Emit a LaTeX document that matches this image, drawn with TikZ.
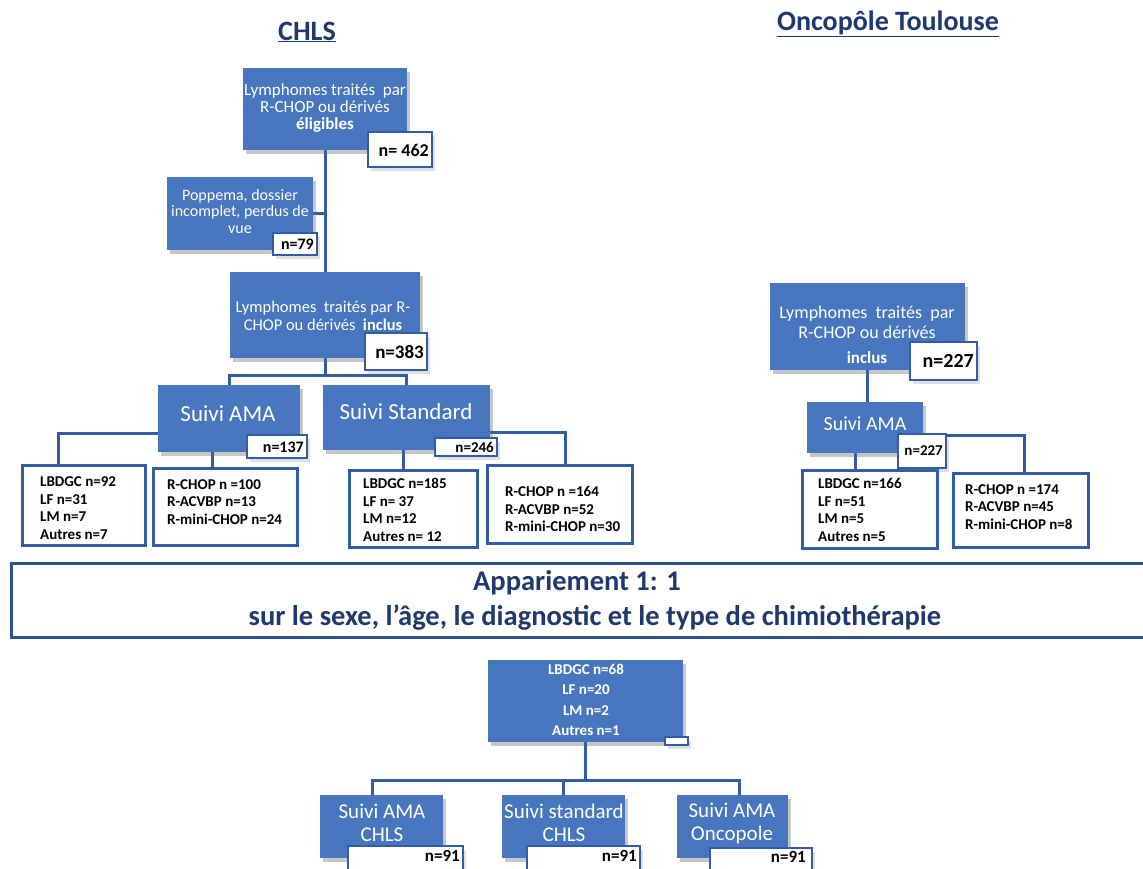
\documentclass[tikz,border=0pt]{standalone}
\usepackage{fontspec}
\setmainfont{Carlito}
\usetikzlibrary{shadows}
\definecolor{boxblue}{RGB}{72,118,190}
\definecolor{lineblue}{RGB}{50,92,166}
\definecolor{navy}{RGB}{31,56,110}
\definecolor{framblue}{RGB}{47,80,145}
\newcommand\bx[6]{\node[#6, minimum width={(#4-#2)*1pt}, minimum height={(#5-#3)*1pt}] (#1) at ({(#2+#4)/2},{(#3+#5)/2}) {};}
\tikzset{
  shad/.style={drop shadow={shadow xshift=3pt,shadow yshift=-4pt,opacity=.2,fill=black!60}},
  bbox/.style={fill=boxblue, draw=none, inner sep=0, shad},
  nbox/.style={fill=white, draw=lineblue, line width=2.2pt, inner sep=0, shad},
  lbox/.style={fill=white, draw=lineblue, line width=3pt, inner sep=0},
  abox/.style={fill=white, draw=framblue, line width=3pt, inner sep=0},
  wtxt/.style={text=white, align=center, inner sep=0},
  ntxt/.style={inner sep=0, anchor=east},
  ltxt/.style={font=\bfseries\fontsize{15}{17.5}\selectfont, align=left, anchor=west, inner sep=0},
  conn/.style={draw=lineblue, line width=3pt},
  ttl/.style={font=\bfseries\fontsize{28}{30}\selectfont, text=navy, inner sep=0},
}
\begin{document}
\begin{tikzpicture}[x=1pt,y=-1pt]
\useasboundingbox (0,0) rectangle (1143,868);
\fill[white] (0,0) rectangle (1143,868);

% ---------- titles
\node[ttl] (t1) at (307,32) {\underline{CHLS}};
\node[ttl] (t2) at (888,24) {\underline{Oncopôle Toulouse}};

% ---------- coordinates for connectors
\coordinate (h1) at (327,375);
\coordinate (k1) at (58,433);
\coordinate (k2) at (212,0);
\coordinate (k3) at (403,0);
\coordinate (k4) at (565,432);
\coordinate (k5) at (855,0);
\coordinate (k6) at (1024,435);
\coordinate (h2) at (0,780);
\coordinate (k7) at (372,0);
\coordinate (k8) at (563,0);
\coordinate (k9) at (739,0);

% ---------- boxes (first pass, for anchors)
\bx{B1}{243}{68}{407}{150}{bbox}
\bx{P}{167}{177}{313}{250}{bbox}
\bx{B3}{230}{272}{420}{358}{bbox}
\bx{S1}{158}{385}{300}{452}{bbox}
\bx{S2}{323}{385}{490}{450}{bbox}
\bx{L1}{22}{465}{145}{545}{lbox}
\bx{L2}{153}{468}{297}{545}{lbox}
\bx{L3}{349}{470}{477}{547}{lbox}
\bx{L4}{487}{465}{632}{543}{lbox}
\bx{O1}{770}{283}{965}{370}{bbox}
\bx{O2}{807}{402}{923}{453}{bbox}
\bx{L5}{802}{470}{937}{548}{lbox}
\bx{L6}{953}{473}{1088}{547}{lbox}
\bx{D}{488}{660}{683}{742}{bbox}
\bx{E1}{320}{795}{443}{858}{bbox}
\bx{E2}{502}{795}{625}{858}{bbox}
\bx{E3}{677}{795}{788}{858}{bbox}

% ---------- connectors
\draw[conn] (B1.south) -- (B3.north);
\draw[conn] (P.east) -- (P.east -| B1.south);
\draw[conn] (B3.south) -- (B3.south |- h1);
\draw[conn] (S1.north) -- (S1.north |- h1) -- (S2.north |- h1) -- (S2.north);
\draw[conn] (k1 -| S1.west) -- (k1) -- (k1 |- L1.north);
\draw[conn] (k2 |- S1.south) -- (k2 |- L2.north);
\draw[conn] (k3 |- S2.south) -- (k3 |- L3.north);
\draw[conn] (k4 -| S2.east) -- (k4) -- (k4 |- L4.north);
\draw[conn] (O1.south) -- (O1.south |- O2.north);
\draw[conn] (k5 |- O2.south) -- (k5 |- L5.north);
\draw[conn] (k6 -| O2.east) -- (k6) -- (k6 |- L6.north);
\draw[conn] (D.south) -- (D.south |- h2);
\draw[conn] (k7 |- E1.north) -- (k7 |- h2) -- (k9 |- h2) -- (k9 |- E3.north);
\draw[conn] (k8 |- h2) -- (k8 |- E2.north);

% ---------- boxes redrawn over connectors
\bx{B1}{243}{68}{407}{150}{bbox}
\bx{P}{167}{177}{313}{250}{bbox}
\bx{B3}{230}{272}{420}{358}{bbox}
\bx{S1}{158}{385}{300}{452}{bbox}
\bx{S2}{323}{385}{490}{450}{bbox}
\bx{L1}{22}{465}{145}{545}{lbox}
\bx{L2}{153}{468}{297}{545}{lbox}
\bx{L3}{349}{470}{477}{547}{lbox}
\bx{L4}{487}{465}{632}{543}{lbox}
\bx{O1}{770}{283}{965}{370}{bbox}
\bx{O2}{807}{402}{923}{453}{bbox}
\bx{L5}{802}{470}{937}{548}{lbox}
\bx{L6}{953}{473}{1088}{547}{lbox}
\bx{D}{488}{660}{683}{742}{bbox}
\bx{E1}{320}{795}{443}{858}{bbox}
\bx{E2}{502}{795}{625}{858}{bbox}
\bx{E3}{677}{795}{788}{858}{bbox}

% n boxes
\bx{n1}{368}{132}{432}{167}{nbox}
\bx{n2}{273}{233}{317}{255}{nbox}
\bx{n3}{365}{333}{427}{370}{nbox}
\bx{n4}{247}{435}{307}{458}{nbox}
\bx{n5}{435}{438}{497}{456}{nbox}
\bx{n6}{910}{342}{977}{380}{nbox}
\bx{n7}{898}{434}{946}{468}{nbox}
\bx{dn}{665}{737}{688}{745}{nbox}
\bx{n8}{348}{846}{463}{874}{nbox}
\bx{n9}{527}{846}{640}{874}{nbox}
\bx{n10}{710}{848}{812}{874}{nbox}

% ---------- texts in blue boxes
\node[wtxt, font=\fontsize{17}{17}\selectfont] (B1t) at (325,108) {Lymphomes traités~ par\\R-CHOP ou dérivés\\\textbf{éligibles}};
\node[wtxt, font=\fontsize{16}{16.5}\selectfont] (Pt) at (240,211) {Poppema, dossier\\incomplet, perdus de\\vue};
\node[wtxt, font=\fontsize{16.5}{18}\selectfont] (B3t) at (323,316) {Lymphomes~ traités par R-\\CHOP ou dérivés~ \textbf{inclus}};
\node[wtxt, font=\fontsize{23}{25}\selectfont] (S1t) at (228,414) {Suivi AMA};
\node[wtxt, font=\fontsize{23}{25}\selectfont] (S2t) at (406,412) {Suivi Standard};
\node[wtxt, font=\fontsize{18}{20}\selectfont] (O1t) at (867,322) {Lymphomes\ \ traités\ \ par\\R-CHOP ou dérivés};
\node[wtxt, font=\bfseries\fontsize{17}{20}\selectfont] (O1i) at (867,358) {inclus};
\node[wtxt, font=\fontsize{20}{22}\selectfont] (O2t) at (865,424) {Suivi AMA};
\node[wtxt, font=\bfseries\fontsize{15}{20.3}\selectfont] (Dt) at (586,700) {LBDGC n=68\\LF n=20\\LM n=2\\Autres n=1};
\node[wtxt, font=\fontsize{21}{23}\selectfont] (E1t) at (382,823) {Suivi AMA\\CHLS};
\node[wtxt, font=\fontsize{21}{23}\selectfont] (E2t) at (564,823) {Suivi standard\\CHLS};
\node[wtxt, font=\fontsize{21}{23}\selectfont] (E3t) at (732,823) {Suivi AMA\\Oncopole};

% ---------- n texts
\node[ntxt, font=\bfseries\fontsize{18}{20}\selectfont] (n1t) at (429,150) {n= 462};
\node[ntxt, font=\bfseries\fontsize{16}{18}\selectfont] (n2t) at (314,244) {n=79};
\node[ntxt, font=\bfseries\fontsize{19}{20}\selectfont] (n3t) at (424,352) {n=383};
\node[ntxt, font=\bfseries\fontsize{16}{18}\selectfont] (n4t) at (304,447) {n=137};
\node[ntxt, font=\bfseries\fontsize{15}{16}\selectfont] (n5t) at (494,447) {n=246};
\node[ntxt, font=\bfseries\fontsize{20}{22}\selectfont] (n6t) at (974,361) {n=227};
\node[ntxt, font=\bfseries\fontsize{15}{16}\selectfont] (n7t) at (943,451) {n=227};
\node[ntxt, font=\bfseries\fontsize{17}{20}\selectfont] (n8t) at (460,856) {n=91};
\node[ntxt, font=\bfseries\fontsize{17}{20}\selectfont] (n9t) at (637,856) {n=91};
\node[ntxt, font=\bfseries\fontsize{17}{20}\selectfont] (n10t) at (806,857) {n=91};

% ---------- list texts
\node[ltxt] (L1t) at (40,508) {LBDGC n=92\\LF n=31\\LM n=7\\Autres n=7};
\node[ltxt] (L2t) at (167,502) {R-CHOP n =100\\R-ACVBP n=13\\R-mini-CHOP n=24};
\node[ltxt] (L3t) at (363,510) {LBDGC n=185\\LF n= 37\\LM n=12\\Autres n= 12};
\node[ltxt] (L4t) at (505,509) {R-CHOP n =164\\R-ACVBP n=52\\R-mini-CHOP n=30};
\node[ltxt] (L5t) at (818,510) {LBDGC n=166\\LF n=51\\LM n=5\\Autres n=5};
\node[ltxt] (L6t) at (965,507) {R-CHOP n =174\\R-ACVBP n=45\\R-mini-CHOP n=8};

% ---------- banner
\bx{A}{11}{563}{1152}{637}{abox}
\node[ttl, font=\bfseries\fontsize{28.5}{30}\selectfont] (A1) at (577,583) {Appariement 1: 1};
\node[ttl, font=\bfseries\fontsize{28.5}{30}\selectfont] (A2) at (595,618) {sur le sexe, l’âge, le diagnostic et le type de chimiothérapie};
\end{tikzpicture}
\end{document}
